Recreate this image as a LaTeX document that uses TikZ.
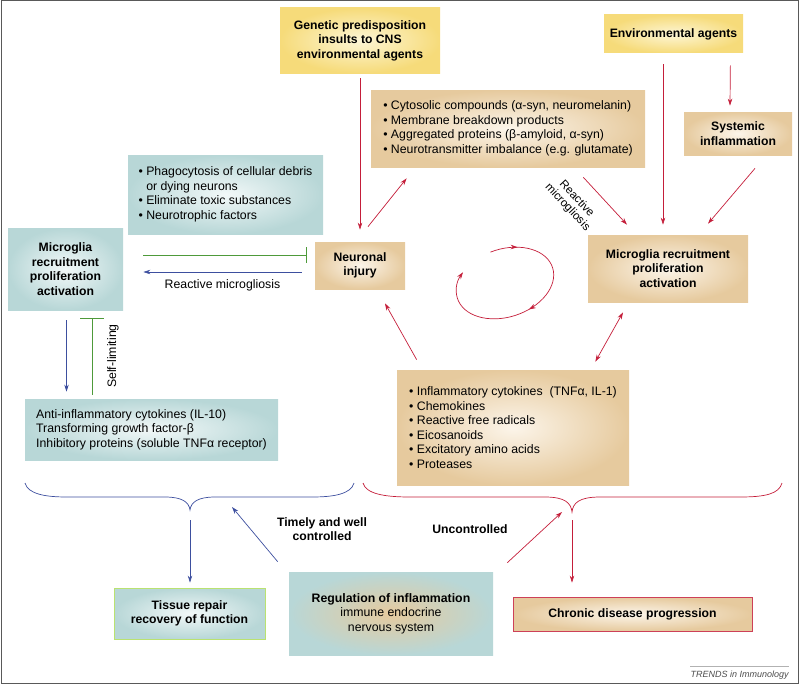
\documentclass[tikz,border=0pt]{standalone}
\usepackage{fontspec}
\setmainfont{Liberation Sans}
\usetikzlibrary{arrows.meta,decorations.markings}
\definecolor{redc}{HTML}{C41E3A}
\definecolor{bluec}{HTML}{3D4F9F}
\definecolor{greenc}{HTML}{4E9A3A}
\definecolor{tanout}{HTML}{E6CA9E}
\definecolor{tanin}{HTML}{FCF5EA}
\definecolor{tealout}{HTML}{B8D7D7}
\definecolor{tealin}{HTML}{F2F8F8}
\definecolor{yelout}{HTML}{F6DB7A}
\definecolor{yelin}{HTML}{FDF6D6}
\begin{document}
\begin{tikzpicture}[x=1pt,y=-1pt,
		font=\fontsize{12.3}{14.5}\selectfont, line width=0.7pt,
		>={Stealth[length=7pt,width=4.5pt]},
		tanbox/.style={inner color=tanin, outer color=tanout},
		tealbox/.style={inner color=tealin, outer color=tealout},
		yelbox/.style={inner color=yelin, outer color=yelout},
		ttl/.style={font=\fontsize{12.2}{14.5}\selectfont\bfseries, align=center},
		redarr/.style={draw=redc, ->},
		bluarr/.style={draw=bluec, ->},
		grnbar/.style={draw=greenc, -{Bar[width=#1,line width=0.9pt]}},
		grnbar/.default=16pt]
	\useasboundingbox (0,0) rectangle (800,685);
	\draw[gray!70!black, line width=1pt] (1,1) rectangle (798.5,683.5);

	\node[yelbox, ttl, minimum width=160, minimum height=65] (gen) at (360,40.5)
		{Genetic predisposition\\insults to CNS\\environmental agents};
	\node[yelbox, ttl, minimum width=139, minimum height=38] (env) at (673.5,34)
		{Environmental agents};
	\node[tanbox, align=left, minimum width=274, minimum height=77] (cyto) at (508,128.5)
		{\textbullet\ Cytosolic compounds (α-syn, neuromelanin)\\
		 \textbullet\ Membrane breakdown products\\
		 \textbullet\ Aggregated proteins (β-amyloid, α-syn)\\
		 \textbullet\ Neurotransmitter imbalance (e.g. glutamate)};
	\node[tanbox, ttl, minimum width=108, minimum height=43] (sys) at (738,133.5)
		{Systemic\\inflammation};
	\node[tealbox, align=left, minimum width=195, minimum height=79] (phago) at (225.5,194.5)
		{\textbullet\ Phagocytosis of cellular debris\\
		 \phantom{\textbullet\ }or dying neurons\\
		 \textbullet\ Eliminate toxic substances\\
		 \textbullet\ Neurotrophic factors};
	\node[tealbox, ttl, minimum width=115, minimum height=82] (micL) at (65.5,269)
		{Microglia\\recruitment\\proliferation\\activation};
	\node[tanbox, ttl, minimum width=90, minimum height=47] (neur) at (360,265.5)
		{Neuronal\\injury};
	\node[tanbox, ttl, minimum width=160, minimum height=67] (micR) at (668,268.5)
		{Microglia recruitment\\proliferation\\activation};
	\node[tanbox, align=left, minimum width=232, minimum height=115] (infl) at (513,427.5)
		{\textbullet\ Inflammatory cytokines\ \ (TNFα, IL-1)\\
		 \textbullet\ Chemokines\\
		 \textbullet\ Reactive free radicals\\
		 \textbullet\ Eicosanoids\\
		 \textbullet\ Excitatory amino acids\\
		 \textbullet\ Proteases};
	\node[tealbox, align=left, minimum width=253, minimum height=61] (anti) at (151.5,429.5)
		{Anti-inflammatory cytokines (IL-10)\\
		 Transforming growth factor-β\\
		 Inhibitory proteins (soluble TNFα receptor)};
	\node[tealbox, ttl, draw=yellow!55!green!60!white, line width=0.8pt,
		minimum width=151, minimum height=51] (tissue) at (189.5,613.5)
		{Tissue repair\\recovery of function};
	\node[inner color=tanout, outer color=tealout, align=center,
		minimum width=204, minimum height=83] (reg) at (391,613.5)
		{\textbf{Regulation of inflammation}\\immune endocrine\\nervous system};
	\node[tanbox, ttl, draw=redc!85!white, line width=0.8pt,
		minimum width=239, minimum height=34] (chron) at (632.5,614)
		{Chronic disease progression};

	\draw[redarr] ([yshift=-5pt]gen.south) -- ([yshift=12pt]neur.north);
	\draw[redarr] ([xshift=8pt,yshift=15pt]neur.north) -- ([xshift=36pt,yshift=-11pt]cyto.south west);
	\draw[redarr] ([xshift=-62pt,yshift=-10pt]cyto.south east) -- ([xshift=-41pt,yshift=10pt]micR.north);
	\node[rotate=-47, align=center, font=\fontsize{11.5}{12.5}\selectfont] (rmg) at (572,203)
		{Reactive\\microgliosis};
	\draw[redarr] ([xshift=-10.5pt,yshift=-11pt]env.south) -- ([xshift=-5pt,yshift=10pt]micR.north);
	\draw[redarr] ([xshift=-13pt,yshift=-12pt]env.south east) -- ([xshift=-8pt,yshift=6pt]sys.north);
	\draw[redarr] ([xshift=17pt,yshift=-13pt]sys.south) -- ([xshift=40pt,yshift=11pt]micR.north);
	\draw[redarr] ([xshift=20pt,yshift=10pt]infl.north west) -- ([xshift=25pt,yshift=-14pt]neur.south);
	\draw[draw=redc, <->] ([xshift=-45pt,yshift=-10pt]micR.south) -- ([xshift=-34pt,yshift=8pt]infl.north east);

	\draw[grnbar] ([xshift=20pt,yshift=14pt]micL.east) -- ([xshift=-8pt,yshift=10.5pt]neur.west);
	\draw[bluarr] ([xshift=-13pt,yshift=-6.5pt]neur.west) -- ([xshift=20pt,yshift=-3pt]micL.east)
		node[midway, below=4pt] {Reactive microgliosis};
	\draw[bluarr] ([xshift=1pt,yshift=-10pt]micL.south) -- ([xshift=-85pt,yshift=7pt]anti.north);
	\draw[grnbar=24pt] ([xshift=-59.5pt,yshift=4pt]anti.north) -- ([xshift=26.5pt,yshift=-8pt]micL.south);
	\node[rotate=90] (selflim) at (113,356) {Self-limiting};

	\begin{scope}[shift={(505,283)}, rotate=18]
		\draw[draw=redc, ->, postaction={decorate}, decoration={markings,
			mark=at position 0.12 with {\arrow{Stealth[length=7pt,width=4.5pt]}},
			mark=at position 0.53 with {\arrow{Stealth[length=7pt,width=4.5pt]}}}]
			(-95:50 and 34) arc[start angle=-95, end angle=223, x radius=50, y radius=34];
	\end{scope}

	\coordinate (bb) at (190,510);
	\coordinate (rb) at (572,512);
	\draw[bluec] (25,483) .. controls (28,494) and (45,497) .. (67,497) -- (165,497)
		.. controls (182,497) and (189,502) .. (bb) .. controls (191,502) and (198,497) .. (215,497)
		-- (312,497) .. controls (334,497) and (351,494) .. (354,483);
	\draw[redc] (363,483) .. controls (366,494) and (385,497) .. (410,497) -- (545,497)
		.. controls (565,497) and (571,503) .. (rb) .. controls (573,503) and (579,497) .. (600,497)
		-- (740,497) .. controls (765,497) and (779,494) .. (782,483);
	\draw[bluarr, shorten <=10pt, shorten >=5pt] (bb) -- (bb |- tissue.north);
	\draw[redarr, shorten <=8pt, shorten >=14pt] (rb) -- (rb |- chron.north);
	\draw[bluarr] ([xshift=-11pt,yshift=10pt]reg.north west) -- ([xshift=42pt,yshift=3pt]bb);
	\draw[redarr] ([xshift=14pt,yshift=9pt]reg.north east) -- ([xshift=-10pt]rb);
	\node[ttl] (timely) at (322,529) {Timely and well\\controlled};
	\node[ttl] (unctl) at (470,529) {Uncontrolled};

	\draw[gray!60, line width=0.8pt] (690,666) -- (789,666);
	\node[anchor=base east, gray!60!black, font=\fontsize{9}{10}\selectfont\itshape, inner sep=0pt]
		(trends) at (789,677) {TRENDS in Immunology};
\end{tikzpicture}
\end{document}
